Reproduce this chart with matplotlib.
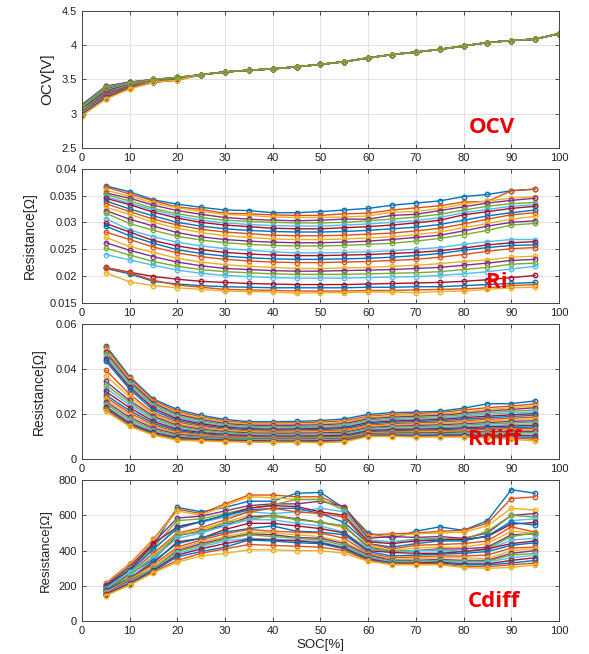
import matplotlib
matplotlib.use("Agg")
import matplotlib.pyplot as plt
import numpy as np

plt.rcParams['font.family'] = ['Liberation Sans', 'DejaVu Sans']

colors = ['#0072BD', '#D95319', '#EDB120', '#7E2F8E', '#77AC30', '#4DBEEE', '#A2142F']

# ---------------- OCV ----------------
soc_ocv = [0, 5, 10, 15, 20, 25, 30, 35, 40, 45, 50, 55, 60, 65, 70, 75, 80, 85, 90, 95, 100]
ocv_heads = [
    [3.13, 3.40, 3.46, 3.50, 3.53],
    [3.12, 3.39, 3.46, 3.50, 3.53],
    [3.11, 3.38, 3.45, 3.49, 3.53],
    [3.10, 3.36, 3.45, 3.49, 3.52],
    [3.09, 3.35, 3.44, 3.49, 3.52],
    [3.08, 3.34, 3.44, 3.49, 3.52],
    [3.07, 3.33, 3.43, 3.48, 3.52],
    [3.06, 3.32, 3.43, 3.48, 3.52],
    [3.05, 3.31, 3.42, 3.48, 3.51],
    [3.05, 3.30, 3.42, 3.48, 3.51],
    [3.04, 3.30, 3.41, 3.48, 3.51],
    [3.03, 3.29, 3.41, 3.47, 3.51],
    [3.03, 3.28, 3.40, 3.47, 3.51],
    [3.02, 3.28, 3.40, 3.47, 3.51],
    [3.02, 3.27, 3.40, 3.47, 3.50],
    [3.01, 3.27, 3.39, 3.47, 3.50],
    [3.01, 3.26, 3.39, 3.47, 3.50],
    [3.00, 3.26, 3.39, 3.46, 3.50],
    [3.00, 3.25, 3.38, 3.46, 3.50],
    [2.99, 3.25, 3.38, 3.46, 3.50],
    [2.99, 3.24, 3.38, 3.46, 3.50],
    [2.98, 3.23, 3.37, 3.46, 3.49],
    [2.97, 3.22, 3.37, 3.46, 3.49],
    [2.97, 3.21, 3.36, 3.46, 3.49],
    [3.12, 3.40, 3.46, 3.50, 3.53],
    [3.11, 3.39, 3.45, 3.50, 3.53],
]
ocv_tail = [3.57, 3.61, 3.635, 3.655, 3.685, 3.72, 3.76, 3.815, 3.865, 3.90, 3.94, 3.99, 4.04, 4.07, 4.09, 4.17]

# ---------------- Ri (mOhm) ----------------
soc = [5, 10, 15, 20, 25, 30, 35, 40, 45, 50, 55, 60, 65, 70, 75, 80, 85, 90, 95]
ri_mohm = [
    [36.8, 35.7, 34.2, 33.4, 32.8, 32.3, 32.2, 31.8, 31.8, 32.0, 32.3, 32.6, 33.2, 33.6, 34.0, 34.8, 35.2, 35.9, 36.2],
    [36.6, 35.3, 34.0, 32.9, 32.4, 31.7, 31.6, 31.4, 31.3, 31.3, 31.6, 31.7, 32.3, 32.7, 33.1, 33.8, 33.9, 35.9, 36.2],
    [36.0, 34.9, 33.6, 32.7, 32.0, 31.5, 31.3, 31.0, 30.9, 30.9, 31.0, 31.2, 31.9, 32.0, 32.6, 33.4, 34.0, 34.5, 34.8],
    [35.5, 34.5, 33.2, 32.2, 31.5, 30.9, 30.6, 30.4, 30.3, 30.4, 30.6, 30.6, 31.3, 31.5, 32.2, 32.9, 33.6, 34.1, 34.5],
    [35.2, 34.0, 32.6, 31.6, 30.9, 30.4, 30.2, 30.0, 29.9, 29.9, 30.0, 30.3, 30.6, 31.0, 31.5, 32.3, 33.0, 33.5, 33.7],
    [34.8, 33.6, 32.3, 31.2, 30.4, 29.9, 29.6, 29.4, 29.3, 29.3, 29.5, 29.7, 30.0, 30.3, 30.9, 31.8, 32.4, 33.0, 33.3],
    [34.5, 33.3, 31.9, 30.8, 30.0, 29.5, 29.2, 28.9, 28.8, 28.8, 29.0, 29.2, 29.5, 29.9, 30.4, 31.4, 32.0, 32.6, 33.0],
    [34.0, 32.5, 31.2, 30.0, 29.3, 28.8, 28.5, 28.3, 28.2, 28.2, 28.3, 28.5, 28.8, 29.1, 29.6, 30.4, 31.2, 31.8, 32.3],
    [33.5, 32.0, 30.6, 29.5, 28.7, 28.2, 27.9, 27.6, 27.5, 27.5, 27.6, 27.8, 28.0, 28.4, 28.9, 29.7, 30.6, 31.4, 31.8],
    [32.8, 31.5, 30.0, 28.9, 28.1, 27.5, 27.2, 26.9, 26.8, 26.8, 26.9, 27.1, 27.3, 27.7, 28.2, 29.0, 29.8, 30.6, 31.1],
    [32.2, 30.6, 29.3, 28.1, 27.3, 26.8, 26.5, 26.3, 26.2, 26.2, 26.3, 26.5, 26.8, 27.2, 27.6, 28.4, 29.3, 30.0, 30.3],
    [31.7, 29.8, 28.5, 27.4, 26.7, 26.2, 25.9, 25.7, 25.6, 25.6, 25.7, 25.9, 26.1, 26.5, 27.0, 27.7, 28.5, 29.5, 29.8],
    [30.7, 28.6, 27.3, 26.3, 25.6, 25.1, 24.8, 24.5, 24.3, 24.3, 24.4, 24.5, 24.7, 25.0, 25.3, 25.9, 26.4, 26.8, 26.8],
    [29.8, 28.2, 26.6, 25.6, 24.9, 24.4, 24.1, 23.9, 23.8, 23.8, 23.9, 24.0, 24.2, 24.4, 24.7, 25.2, 25.8, 26.2, 26.4],
    [29.3, 27.5, 26.1, 24.9, 24.2, 23.7, 23.4, 23.2, 23.1, 23.1, 23.2, 23.3, 23.5, 23.8, 24.2, 24.8, 25.3, 25.7, 25.8],
    [28.2, 26.8, 25.4, 24.3, 23.6, 23.1, 22.8, 22.6, 22.5, 22.5, 22.6, 22.7, 22.9, 23.1, 23.5, 24.0, 24.6, 25.1, 25.3],
    [27.2, 25.5, 24.4, 23.3, 22.6, 22.1, 21.8, 21.6, 21.4, 21.4, 21.5, 21.6, 21.8, 22.0, 22.3, 22.7, 23.0, 23.5, 23.7],
    [26.2, 24.8, 23.6, 22.6, 21.9, 21.4, 21.2, 21.0, 20.9, 20.9, 21.0, 21.1, 21.2, 21.4, 21.6, 22.0, 22.4, 22.9, 23.1],
    [25.2, 23.9, 22.7, 21.8, 21.2, 20.8, 20.6, 20.4, 20.3, 20.3, 20.3, 20.4, 20.5, 20.6, 20.8, 21.2, 21.6, 22.2, 22.4],
    [24.0, 23.0, 22.0, 21.1, 20.5, 20.1, 19.9, 19.7, 19.6, 19.6, 19.6, 19.7, 19.8, 19.9, 20.1, 20.4, 20.8, 21.3, 21.8],
    [21.6, 20.7, 19.9, 19.4, 19.0, 18.8, 18.6, 18.5, 18.4, 18.4, 18.4, 18.5, 18.6, 18.7, 18.8, 19.0, 19.3, 19.7, 20.1],
    [21.4, 20.4, 19.0, 18.5, 18.2, 18.0, 17.9, 17.8, 17.8, 17.8, 17.8, 17.9, 17.9, 18.0, 18.0, 18.2, 18.4, 18.6, 18.8],
    [21.5, 20.6, 19.2, 18.3, 17.9, 17.5, 17.4, 17.3, 17.2, 17.2, 17.2, 17.3, 17.3, 17.4, 17.5, 17.6, 17.8, 18.2, 18.4],
    [20.6, 18.9, 18.2, 17.8, 17.5, 17.2, 17.1, 17.0, 16.8, 16.9, 16.9, 17.0, 17.0, 16.9, 17.1, 17.2, 17.5, 17.8, 17.9],
]

# ---------------- Rdiff (mOhm) ----------------
rdiff_mohm = [
    [50.3, 36.6, 26.6, 22.0, 19.4, 17.6, 16.6, 16.6, 16.7, 17.1, 17.8, 19.8, 20.6, 20.8, 21.2, 22.6, 24.5, 24.6, 25.8],
    [49.5, 36.0, 26.0, 21.2, 18.7, 17.0, 16.0, 16.0, 16.1, 16.4, 17.0, 19.0, 19.8, 20.2, 20.6, 21.8, 22.8, 23.5, 24.5],
    [48.5, 35.3, 25.4, 20.5, 18.1, 16.4, 15.5, 15.4, 15.5, 15.8, 16.3, 18.4, 19.2, 19.6, 20.0, 21.0, 22.0, 22.8, 23.6],
    [47.5, 34.6, 24.8, 19.9, 17.5, 15.8, 15.0, 14.9, 15.0, 15.2, 15.7, 17.9, 18.6, 19.0, 19.4, 20.3, 21.3, 22.0, 22.8],
    [46.5, 33.8, 24.0, 19.2, 16.9, 15.2, 14.5, 14.3, 14.4, 14.6, 15.1, 17.3, 18.0, 18.4, 18.8, 19.7, 20.5, 21.2, 21.8],
    [45.5, 33.0, 23.3, 18.5, 16.3, 14.7, 14.0, 13.8, 13.9, 14.1, 14.5, 16.8, 17.5, 17.8, 18.2, 19.0, 19.8, 20.4, 21.0],
    [44.5, 32.0, 22.5, 17.8, 15.7, 14.2, 13.5, 13.3, 13.4, 13.6, 14.0, 16.2, 16.9, 17.2, 17.6, 18.4, 19.0, 19.6, 20.2],
    [43.5, 31.0, 21.6, 17.1, 15.1, 13.7, 13.0, 12.8, 12.9, 13.1, 13.5, 15.6, 16.3, 16.6, 17.0, 17.7, 18.3, 18.9, 19.4],
    [39.5, 28.8, 20.5, 16.4, 14.5, 13.2, 12.5, 12.3, 12.4, 12.6, 12.9, 15.0, 15.7, 16.0, 16.4, 17.0, 17.6, 18.1, 18.6],
    [37.0, 27.5, 19.8, 15.7, 13.9, 12.7, 12.1, 11.9, 12.0, 12.1, 12.4, 14.5, 15.2, 15.5, 15.8, 16.4, 16.9, 17.4, 17.8],
    [34.5, 26.0, 19.0, 15.0, 13.3, 12.2, 11.6, 11.4, 11.5, 11.6, 11.9, 14.0, 14.6, 14.9, 15.2, 15.7, 16.2, 16.7, 17.0],
    [33.0, 25.0, 18.3, 14.4, 12.8, 11.7, 11.2, 11.0, 11.0, 11.1, 11.4, 13.5, 14.1, 14.3, 14.6, 15.1, 15.6, 16.0, 16.3],
    [31.5, 24.0, 17.5, 13.8, 12.3, 11.3, 10.8, 10.6, 10.6, 10.7, 10.9, 13.0, 13.6, 13.8, 14.0, 14.5, 14.9, 15.3, 15.6],
    [30.0, 22.8, 16.7, 13.2, 11.8, 10.9, 10.4, 10.2, 10.2, 10.3, 10.5, 12.6, 13.1, 13.3, 13.5, 13.9, 14.3, 14.7, 14.9],
    [28.5, 21.5, 15.9, 12.6, 11.3, 10.5, 10.0, 9.8, 9.8, 9.9, 10.1, 12.2, 12.6, 12.8, 13.0, 13.4, 13.7, 14.0, 14.2],
    [27.5, 20.5, 15.1, 12.0, 10.8, 10.1, 9.7, 9.5, 9.5, 9.6, 9.7, 11.8, 12.2, 12.4, 12.5, 12.9, 13.1, 13.4, 13.5],
    [26.5, 19.5, 14.4, 11.5, 10.4, 9.7, 9.4, 9.2, 9.2, 9.3, 9.4, 11.5, 11.8, 12.0, 12.1, 12.4, 12.6, 12.8, 12.9],
    [25.5, 18.5, 13.7, 11.0, 10.0, 9.4, 9.1, 8.9, 8.9, 9.0, 9.1, 11.2, 11.5, 11.6, 11.7, 12.0, 12.1, 12.3, 12.3],
    [24.5, 17.6, 13.0, 10.5, 9.6, 9.1, 8.8, 8.6, 8.6, 8.7, 8.8, 10.9, 11.2, 11.3, 11.3, 11.5, 11.6, 11.8, 11.7],
    [23.5, 16.8, 12.4, 10.0, 9.2, 8.8, 8.5, 8.3, 8.3, 8.4, 8.5, 10.7, 10.9, 10.9, 10.9, 11.1, 11.1, 11.2, 11.1],
    [23.0, 16.0, 11.8, 9.6, 8.9, 8.5, 8.2, 8.0, 8.0, 8.1, 8.3, 10.5, 10.6, 10.5, 10.6, 10.7, 10.6, 10.6, 10.3],
    [22.5, 15.4, 11.4, 9.2, 8.6, 8.2, 7.9, 7.8, 7.8, 7.8, 8.1, 10.3, 10.4, 10.2, 10.3, 10.3, 10.1, 10.0, 9.5],
    [22.0, 14.9, 11.0, 8.8, 8.3, 8.0, 7.7, 7.6, 7.6, 7.5, 7.9, 10.1, 10.2, 10.0, 10.0, 10.0, 9.7, 9.3, 8.8],
    [21.2, 14.5, 10.6, 8.3, 8.0, 7.7, 7.5, 7.4, 7.4, 7.2, 7.7, 10.0, 10.0, 9.8, 9.8, 9.8, 9.3, 8.8, 8.0],
]

# ---------------- Cdiff ----------------
cdiff = [
    [200, 300, 430, 645, 620, 645, 680, 680, 725, 730, 640, 500, 470, 510, 535, 515, 570, 745, 725],
    [215, 325, 465, 635, 610, 665, 715, 715, 705, 705, 645, 490, 495, 500, 510, 515, 555, 695, 705],
    [210, 320, 460, 625, 600, 655, 705, 700, 690, 690, 630, 480, 485, 495, 500, 505, 540, 640, 630],
    [205, 310, 445, 585, 595, 625, 655, 665, 665, 680, 650, 470, 480, 475, 480, 470, 500, 600, 610],
    [195, 300, 420, 570, 580, 610, 640, 660, 690, 690, 630, 460, 450, 465, 470, 465, 510, 600, 590],
    [190, 285, 400, 540, 560, 590, 620, 610, 620, 640, 620, 455, 450, 460, 465, 460, 480, 570, 580],
    [200, 290, 440, 535, 565, 600, 640, 655, 650, 620, 600, 450, 440, 455, 460, 465, 480, 550, 560],
    [195, 285, 410, 525, 565, 600, 630, 640, 640, 610, 560, 440, 420, 440, 455, 455, 485, 560, 545],
    [185, 275, 385, 500, 530, 575, 620, 640, 620, 610, 590, 440, 410, 430, 435, 440, 455, 535, 505],
    [180, 270, 370, 495, 520, 560, 600, 590, 580, 560, 530, 430, 400, 415, 420, 420, 440, 510, 500],
    [175, 265, 350, 485, 510, 545, 590, 600, 580, 560, 540, 420, 395, 400, 410, 410, 420, 490, 495],
    [170, 260, 360, 490, 505, 560, 575, 600, 575, 560, 540, 415, 395, 400, 405, 395, 410, 480, 500],
    [185, 280, 360, 470, 500, 540, 575, 575, 555, 540, 505, 410, 390, 400, 400, 395, 405, 460, 470],
    [175, 240, 330, 450, 470, 520, 555, 555, 540, 525, 500, 400, 390, 385, 385, 395, 410, 440, 455],
    [170, 245, 340, 440, 470, 505, 525, 540, 510, 505, 490, 395, 370, 375, 380, 385, 395, 430, 445],
    [165, 240, 320, 420, 460, 495, 520, 510, 505, 500, 470, 385, 360, 365, 370, 370, 375, 415, 420],
    [165, 235, 315, 410, 450, 480, 505, 500, 490, 480, 450, 380, 350, 355, 360, 360, 355, 400, 410],
    [160, 230, 300, 400, 440, 470, 495, 490, 475, 470, 440, 375, 345, 345, 350, 345, 345, 385, 400],
    [155, 225, 300, 395, 430, 465, 490, 480, 470, 460, 430, 365, 340, 340, 345, 340, 340, 375, 385],
    [160, 220, 295, 385, 420, 455, 470, 465, 460, 450, 420, 360, 335, 335, 340, 335, 335, 360, 375],
    [155, 215, 290, 375, 410, 440, 465, 460, 455, 445, 415, 355, 330, 330, 335, 325, 325, 345, 360],
    [150, 210, 285, 365, 395, 420, 460, 455, 445, 440, 410, 350, 330, 325, 330, 320, 320, 330, 345],
    [150, 205, 280, 345, 385, 410, 435, 430, 425, 420, 400, 345, 325, 325, 325, 310, 310, 320, 330],
    [145, 205, 275, 335, 370, 385, 405, 405, 400, 400, 385, 340, 320, 320, 320, 305, 300, 305, 320],
]

fig = plt.figure(figsize=(5.89, 6.54), dpi=100)
L, W = 0.139, 0.810
axes = [
    fig.add_axes([L, 0.774, W, 0.209]),
    fig.add_axes([L, 0.537, W, 0.205]),
    fig.add_axes([L, 0.298, W, 0.207]),
    fig.add_axes([L, 0.050, W, 0.216]),
]

line_kw = dict(marker='o', markersize=3.2, markerfacecolor='none', markeredgewidth=1.0, linewidth=1.0)
label_font = ['Open Sans', 'DejaVu Sans']

def style(ax, ylim, yticks, yticklabels, ylabel, ylsize, pad):
    ax.set_xlim(0, 100)
    ax.set_ylim(*ylim)
    ax.set_xticks(range(0, 101, 10))
    ax.set_yticks(yticks)
    ax.set_yticklabels(yticklabels)
    ax.tick_params(direction='in', top=True, right=True, labelsize=8, length=3,
                   color='#333333', labelcolor='#222222', width=0.6)
    ax.grid(True, color='#dddddd', linewidth=0.6)
    ax.set_axisbelow(True)
    for s in ax.spines.values():
        s.set_color('#444444')
        s.set_linewidth(0.7)
    ax.set_ylabel(ylabel, fontsize=ylsize, color='#222222', labelpad=pad)

def tag(ax, x, y, txt):
    ax.text(x, y, txt, color='#ee0000', fontsize=16, fontweight='bold',
            family=label_font, ha='center', va='center')

# OCV
ax = axes[0]
for i, h in enumerate(ocv_heads):
    ax.plot(soc_ocv, h + ocv_tail, color=colors[i % 7], **line_kw)
style(ax, (2.5, 4.5), [2.5, 3, 3.5, 4, 4.5], ['2.5', '3', '3.5', '4', '4.5'], 'OCV[V]', 11, 5)
tag(ax, 86, 2.80, 'OCV')

# Ri
ax = axes[1]
for i, s in enumerate(ri_mohm):
    ax.plot(soc, np.array(s) / 1000.0, color=colors[i % 7], **line_kw)
style(ax, (0.015, 0.04), [0.015, 0.02, 0.025, 0.03, 0.035, 0.04],
      ['0.015', '0.02', '0.025', '0.03', '0.035', '0.04'], 'Resistance[Ω]', 10, 9)
tag(ax, 87, 0.0187, 'Ri')

# Rdiff
ax = axes[2]
for i, s in enumerate(rdiff_mohm):
    ax.plot(soc, np.array(s) / 1000.0, color=colors[i % 7], **line_kw)
style(ax, (0, 0.06), [0, 0.02, 0.04, 0.06], ['0', '0.02', '0.04', '0.06'], 'Resistance[Ω]', 10, 7)
tag(ax, 86.4, 0.0085, 'Rdiff')

# Cdiff
ax = axes[3]
for i, s in enumerate(cdiff):
    ax.plot(soc, s, color=colors[i % 7], **line_kw)
style(ax, (0, 800), [0, 200, 400, 600, 800], ['0', '200', '400', '600', '800'], 'Resistance[Ω]', 9.5, 5)
tag(ax, 86.4, 110, 'Cdiff')
ax.set_xlabel('SOC[%]', fontsize=9.5, color='#222222', labelpad=2)

fig.savefig('out.png', dpi=100)
